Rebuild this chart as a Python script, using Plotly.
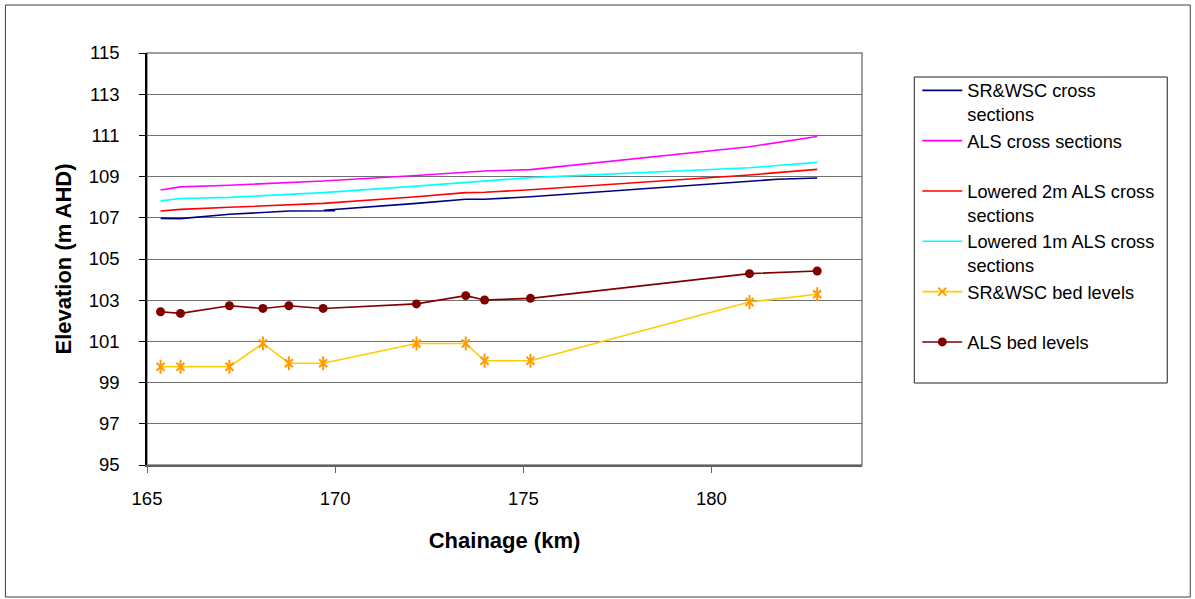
import plotly.graph_objects as go

# ---- data ----
xs_chainage = [165.36, 165.89, 167.19, 168.77, 169.68, 172.16, 173.47, 173.97, 175.19, 181.01, 182.81]
als_xs = [108.35, 108.50, 108.58, 108.70, 108.79, 109.05, 109.21, 109.27, 109.34, 110.45, 110.95]
lowered1_xs = [107.82, 107.94, 107.99, 108.12, 108.22, 108.54, 108.72, 108.79, 108.95, 109.43, 109.69]
lowered2_xs = [107.33, 107.41, 107.51, 107.62, 107.70, 108.02, 108.22, 108.24, 108.36, 109.08, 109.35]

srwsc_xs_chainage = [165.36, 165.89, 167.19, 168.77, 170.0, 169.7, 172.16, 173.47, 173.97, 175.19, 181.75, 182.81]
srwsc_xs = [106.97, 106.96, 107.17, 107.33, 107.34, 107.37, 107.70, 107.90, 107.90, 108.02, 108.87, 108.93]

bed_chainage = [165.36, 165.89, 167.19, 168.08, 168.77, 169.68, 172.16, 173.47, 173.97, 175.19, 181.01, 182.81]
als_bed = [102.44, 102.36, 102.73, 102.60, 102.73, 102.60, 102.82, 103.22, 103.01, 103.09, 104.29, 104.42]
srwsc_bed = [99.77, 99.77, 99.77, 100.90, 99.94, 99.94, 100.90, 100.90, 100.06, 100.06, 102.91, 103.29]

y_ticks = [95, 97, 99, 101, 103, 105, 107, 109, 111, 113, 115]
x_ticks = [165, 170, 175, 180]

names = [
    "SR&WSC cross<br>sections",
    "ALS cross sections<br>\u00a0",
    "Lowered 2m ALS cross<br>sections",
    "Lowered 1m ALS cross<br>sections",
    "SR&WSC bed levels<br>\u00a0",
    "ALS bed levels<br>\u00a0",
]

FONT = "Liberation Sans, Arial, sans-serif"

fig = go.Figure()
fig.add_trace(go.Scatter(x=srwsc_xs_chainage, y=srwsc_xs, mode="lines", name=names[0],
                         line=dict(color="#000080", width=1.6)))
fig.add_trace(go.Scatter(x=xs_chainage, y=als_xs, mode="lines", name=names[1],
                         line=dict(color="#FF00FF", width=1.6)))
fig.add_trace(go.Scatter(x=xs_chainage, y=lowered2_xs, mode="lines", name=names[2],
                         line=dict(color="#FF0000", width=1.6)))
fig.add_trace(go.Scatter(x=xs_chainage, y=lowered1_xs, mode="lines", name=names[3],
                         line=dict(color="#00FFFF", width=1.6)))
fig.add_trace(go.Scatter(x=bed_chainage, y=srwsc_bed, mode="lines+markers", name=names[4],
                         legendgroup="srbed",
                         line=dict(color="#FFCC00", width=1.6),
                         marker=dict(symbol="x-thin-open", size=8, color="#FF9900",
                                     line=dict(color="#FF9900", width=2))))
fig.add_trace(go.Scatter(x=bed_chainage, y=srwsc_bed, mode="markers", showlegend=False,
                         legendgroup="srbed", hoverinfo="skip",
                         marker=dict(symbol="line-ns-open", size=10, color="#FF9900",
                                     line=dict(color="#FF9900", width=2))))
fig.add_trace(go.Scatter(x=bed_chainage, y=als_bed, mode="lines+markers", name=names[5],
                         line=dict(color="#800000", width=1.6),
                         marker=dict(symbol="circle", size=9, color="#800000")))

W, H = 1195, 599
L, R, T, B = 146.6, 861.7, 53, 465
pw, ph = R - L, B - T

def px(xp):
    return (xp - L) / pw

def py(yp):
    return (B - yp) / ph

# outer chart border
fig.add_shape(type="rect", xref="paper", yref="paper",
              x0=px(5), x1=px(1190), y0=py(597), y1=py(5),
              line=dict(color="#404040", width=1), layer="below")
# plot area border (gray)
fig.add_shape(type="rect", xref="paper", yref="paper",
              x0=0, x1=1, y0=0, y1=1,
              line=dict(color="#808080", width=1.5), layer="below")
# legend box
fig.add_shape(type="rect", xref="paper", yref="paper",
              x0=px(914), x1=px(1167), y0=py(383), y1=py(77),
              line=dict(color="#202020", width=1), layer="below")

fig.update_layout(
    width=W, height=H,
    margin=dict(l=L, r=W - R, t=T, b=H - B),
    paper_bgcolor="white", plot_bgcolor="white",
    font=dict(family=FONT, color="black"),
    showlegend=True,
    legend=dict(
        x=px(917), y=py(72), xanchor="left", yanchor="top",
        borderwidth=0,
        font=dict(family=FONT, size=18.2, color="black"),
        valign="top", tracegroupgap=0, itemwidth=40,
        bgcolor="rgba(0,0,0,0)",
    ),
)
fig.update_xaxes(
    range=[165, 184], tickvals=x_ticks, ticktext=[str(v) for v in x_ticks],
    showgrid=False, zeroline=False,
    showline=True, linecolor="#606060", linewidth=2,
    ticks="outside", ticklen=6, tickcolor="#606060", tickwidth=1,
    tickfont=dict(family=FONT, size=18.5, color="black"),
    ticklabelstandoff=10,
    title=dict(text="<b>Chainage (km)</b>", font=dict(family=FONT, size=22, color="black"),
               standoff=24),
)
fig.update_yaxes(
    range=[95, 115], tickvals=y_ticks, ticktext=[str(v) for v in y_ticks],
    showgrid=True, gridcolor="#707070", gridwidth=1,
    zeroline=False,
    showline=True, linecolor="black", linewidth=1.5,
    ticks="outside", ticklen=6, tickcolor="black", tickwidth=1,
    tickfont=dict(family=FONT, size=18.5, color="black"),
    ticklabelstandoff=16,
    title=dict(text="<b>Elevation (m AHD)</b>", font=dict(family=FONT, size=22, color="black"),
               standoff=11),
)

fig.write_html("out.html", config={"displayModeBar": False},
               post_script="document.body.style.margin='0';")
